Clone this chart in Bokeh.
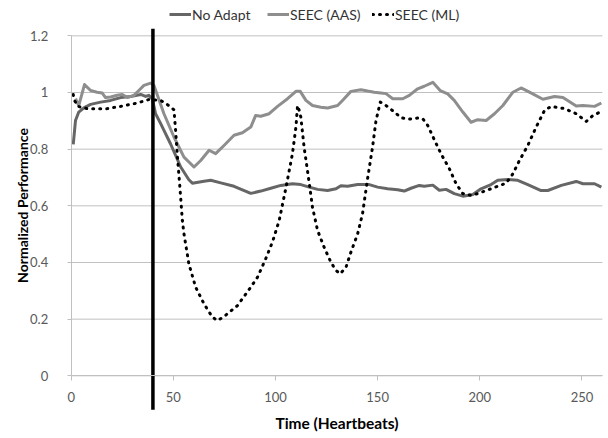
from bokeh.plotting import figure
from bokeh.models import Range1d, FixedTicker, Legend, LegendItem
from bokeh.embed import file_html
from bokeh.resources import INLINE

# ---------------- data ----------------
no_adapt_x = [1, 2.1, 3.7, 6.2, 9.5, 14.4, 19.3, 24.2, 29.1, 34, 36.4, 38, 39.7, 41.3, 43.8, 48.6,
              53.6, 57.6, 59.3, 65, 68.3, 73.2, 79.7, 87.9, 92.8, 97.7, 102.6, 108.3, 112.4, 116.5,
              120.6, 125.5, 129.6, 132, 135.3, 140.2, 145.9, 150, 154.9, 159.8, 163, 166.3, 170.4,
              172.8, 177, 180.2, 183.5, 187.5, 191.7, 196.6, 200.6, 205.5, 208.8, 213.7, 218.6,
              223.5, 230, 233.3, 239.9, 247.2, 250.5, 256.2, 259.5]
no_adapt_y = [0.817, 0.901, 0.931, 0.946, 0.958, 0.966, 0.972, 0.982, 0.986, 0.993, 0.986, 0.990,
              0.978, 0.925, 0.890, 0.819, 0.737, 0.692, 0.680, 0.687, 0.690, 0.681, 0.669, 0.644,
              0.652, 0.662, 0.672, 0.678, 0.675, 0.666, 0.658, 0.654, 0.660, 0.671, 0.669, 0.675,
              0.675, 0.666, 0.660, 0.657, 0.652, 0.662, 0.672, 0.669, 0.673, 0.655, 0.658, 0.643,
              0.634, 0.640, 0.660, 0.675, 0.690, 0.693, 0.690, 0.675, 0.654, 0.654, 0.672, 0.686,
              0.678, 0.678, 0.666]

aas_x = [2.1, 3.7, 6.5, 9.5, 12.7, 15.2, 16.8, 19.3, 22.5, 25, 27.5, 30.7, 33.1, 35.6, 38.9, 40.5,
         42.2, 45.4, 50.3, 55.2, 60.1, 63.4, 67.5, 70.7, 74.8, 79.7, 83.8, 87.9, 90.3, 92.8, 96.9,
         101, 105.9, 110, 112.1, 114.9, 118.1, 122.2, 125.5, 130.4, 132.8, 136.9, 141.8, 145.1,
         148.3, 151.6, 154.1, 157.4, 162.3, 165.5, 169.6, 172.8, 177, 180.6, 184.3, 187.5, 191.7,
         195.7, 199, 203.1, 207.2, 211.3, 216.2, 220.2, 224.3, 230.9, 236.6, 240.7, 247.2, 250.5,
         256.2, 259.5]
aas_y = [0.978, 0.954, 1.028, 1.007, 1.001, 0.998, 0.982, 0.984, 0.990, 0.993, 0.982, 0.990, 1.007,
         1.025, 1.033, 1.025, 0.990, 0.925, 0.843, 0.772, 0.737, 0.760, 0.796, 0.784, 0.813, 0.849,
         0.858, 0.878, 0.919, 0.916, 0.925, 0.951, 0.978, 1.004, 1.004, 0.972, 0.954, 0.948, 0.945,
         0.954, 0.972, 1.004, 1.010, 1.005, 1.001, 0.998, 0.996, 0.978, 0.978, 0.990, 1.013, 1.022,
         1.036, 1.007, 0.995, 0.972, 0.931, 0.895, 0.904, 0.901, 0.925, 0.954, 1.001, 1.016, 1.001,
         0.976, 0.986, 0.982, 0.952, 0.954, 0.951, 0.963]

ml_x = [1, 1.6, 3.3, 7.8, 17.6, 24.2, 32.4, 38, 43.8, 47.1, 50.3, 51.1, 52, 53.2, 54.4, 55.2, 57.6,
        60.9, 65, 69.1, 71.6, 74.8, 81.4, 87.9, 91.2, 95.2, 98.5, 101.8, 105, 108.3, 110, 110.8,
        111.6, 112.4, 114, 116.5, 118.1, 120.6, 123.8, 127.1, 129.6, 131.7, 134.5, 136.9, 140.2,
        142.6, 145.1, 147.5, 149.2, 151.3, 154.1, 158.2, 161.4, 165.5, 169.6, 172.1, 174.5, 177.3,
        181, 185.1, 188.4, 191.7, 195.7, 199, 203.1, 208.8, 212.9, 216.2, 219.4, 223.5, 227.6,
        231.7, 235, 241.5, 247.2, 252.1, 255.4, 259.5]
ml_y = [0.993, 0.972, 0.951, 0.943, 0.943, 0.951, 0.963, 0.975, 0.972, 0.957, 0.939, 0.866, 0.772,
        0.666, 0.548, 0.501, 0.395, 0.313, 0.254, 0.207, 0.195, 0.209, 0.248, 0.313, 0.348, 0.413,
        0.472, 0.548, 0.660, 0.784, 0.878, 0.954, 0.937, 0.913, 0.807, 0.681, 0.595, 0.513, 0.454,
        0.401, 0.372, 0.360, 0.383, 0.436, 0.501, 0.572, 0.697, 0.807, 0.901, 0.966, 0.954, 0.931,
        0.911, 0.906, 0.910, 0.907, 0.884, 0.840, 0.784, 0.731, 0.678, 0.643, 0.637, 0.643, 0.654,
        0.669, 0.680, 0.713, 0.760, 0.813, 0.878, 0.937, 0.951, 0.943, 0.925, 0.898, 0.919, 0.933]

series_names = ["No Adapt", "SEEC (AAS)", "SEEC (ML)"]
adapt_time = 40
adapt_marker_span = [-0.12, 1.225]

x_ticks = [0, 50, 100, 150, 200, 250]
y_ticks = [0, 0.2, 0.4, 0.6, 0.8, 1.0, 1.2]
y_tick_labels = ["0", "0.2", "0.4", "0.6", "0.8", "1", "1.2"]

FONT = "Lato"
GRID = "#c0c0c0"
# the frame fills the whole canvas; the axes are pinned at data 0 and span 0..260 / 0..1.2
X_BOUNDS = (0, 260)
Y_BOUNDS = (0, 1.2)
X_VIEW = (-34.61, 263.0)
Y_VIEW = (-0.2213, 1.3247)

# ---------------- figure ----------------
p = figure(width=608, height=438, output_backend="svg", toolbar_location=None,
           x_range=Range1d(*X_VIEW), y_range=Range1d(*Y_VIEW),
           min_border_left=0, min_border_right=0, min_border_top=0, min_border_bottom=0)
p.outline_line_color = None
p.background_fill_color = "white"
p.border_fill_color = "white"
p.xgrid.visible = False
p.ygrid.visible = False

# horizontal gridlines limited to the axis extent
p.segment(x0=[X_BOUNDS[0]] * len(y_ticks), y0=y_ticks, x1=[X_BOUNDS[1]] * len(y_ticks), y1=y_ticks,
          line_color=GRID, line_width=1)

p.xaxis.ticker = FixedTicker(ticks=x_ticks)
p.yaxis.ticker = FixedTicker(ticks=y_ticks)
p.yaxis.major_label_overrides = {t: l for t, l in zip(y_ticks, y_tick_labels)}
p.xaxis.bounds = X_BOUNDS
p.yaxis.bounds = Y_BOUNDS
p.xaxis.fixed_location = 0
p.yaxis.fixed_location = 0

for ax in (p.xaxis, p.yaxis):
    ax.axis_line_color = GRID
    ax.major_tick_line_color = GRID
    ax.minor_tick_line_color = None
    ax.major_tick_in = 0
    ax.major_label_text_font = FONT
    ax.major_label_text_font_size = "13px"
    ax.major_label_text_color = "#595959"
    ax.axis_label_text_font = FONT
    ax.axis_label_text_font_style = "bold"
    ax.axis_label_text_color = "black"

p.xaxis.major_tick_out = 5
p.xaxis.major_label_standoff = 11
p.xaxis.axis_label = "Time (Heartbeats)"
p.xaxis.axis_label_text_font_size = "15.5px"
p.xaxis.axis_label_standoff = 9

p.yaxis.major_tick_out = 4
p.yaxis.major_label_standoff = 19
p.yaxis.axis_label = "Normalized Performance"
p.yaxis.axis_label_text_font_size = "14px"
p.yaxis.axis_label_standoff = -4

r1 = p.line(no_adapt_x, no_adapt_y, line_color="#666666", line_width=3, line_join="round")
r2 = p.line(aas_x, aas_y, line_color="#8e8e8e", line_width=3, line_join="round")
r3 = p.line(ml_x, ml_y, line_color="black", line_width=3, line_dash="1 6", line_cap="round",
            line_join="round")
p.segment(x0=[adapt_time], y0=[adapt_marker_span[0]], x1=[adapt_time], y1=[adapt_marker_span[1]],
          line_color="black", line_width=3.5)

legend_left = [169, 267, 372]
for name, r, lx in zip(series_names, [r1, r2, r3], legend_left):
    lg = Legend(items=[LegendItem(label=name, renderers=[r])],
                orientation="horizontal", location=(lx, 414),
                glyph_width=22, glyph_height=20, label_height=20, label_standoff=1,
                padding=0, margin=0, border_line_color=None, background_fill_alpha=0,
                label_text_font=FONT, label_text_font_size="14px", label_text_color="#333333")
    p.add_layout(lg)

open("out.html", "w").write(file_html(p, INLINE))
